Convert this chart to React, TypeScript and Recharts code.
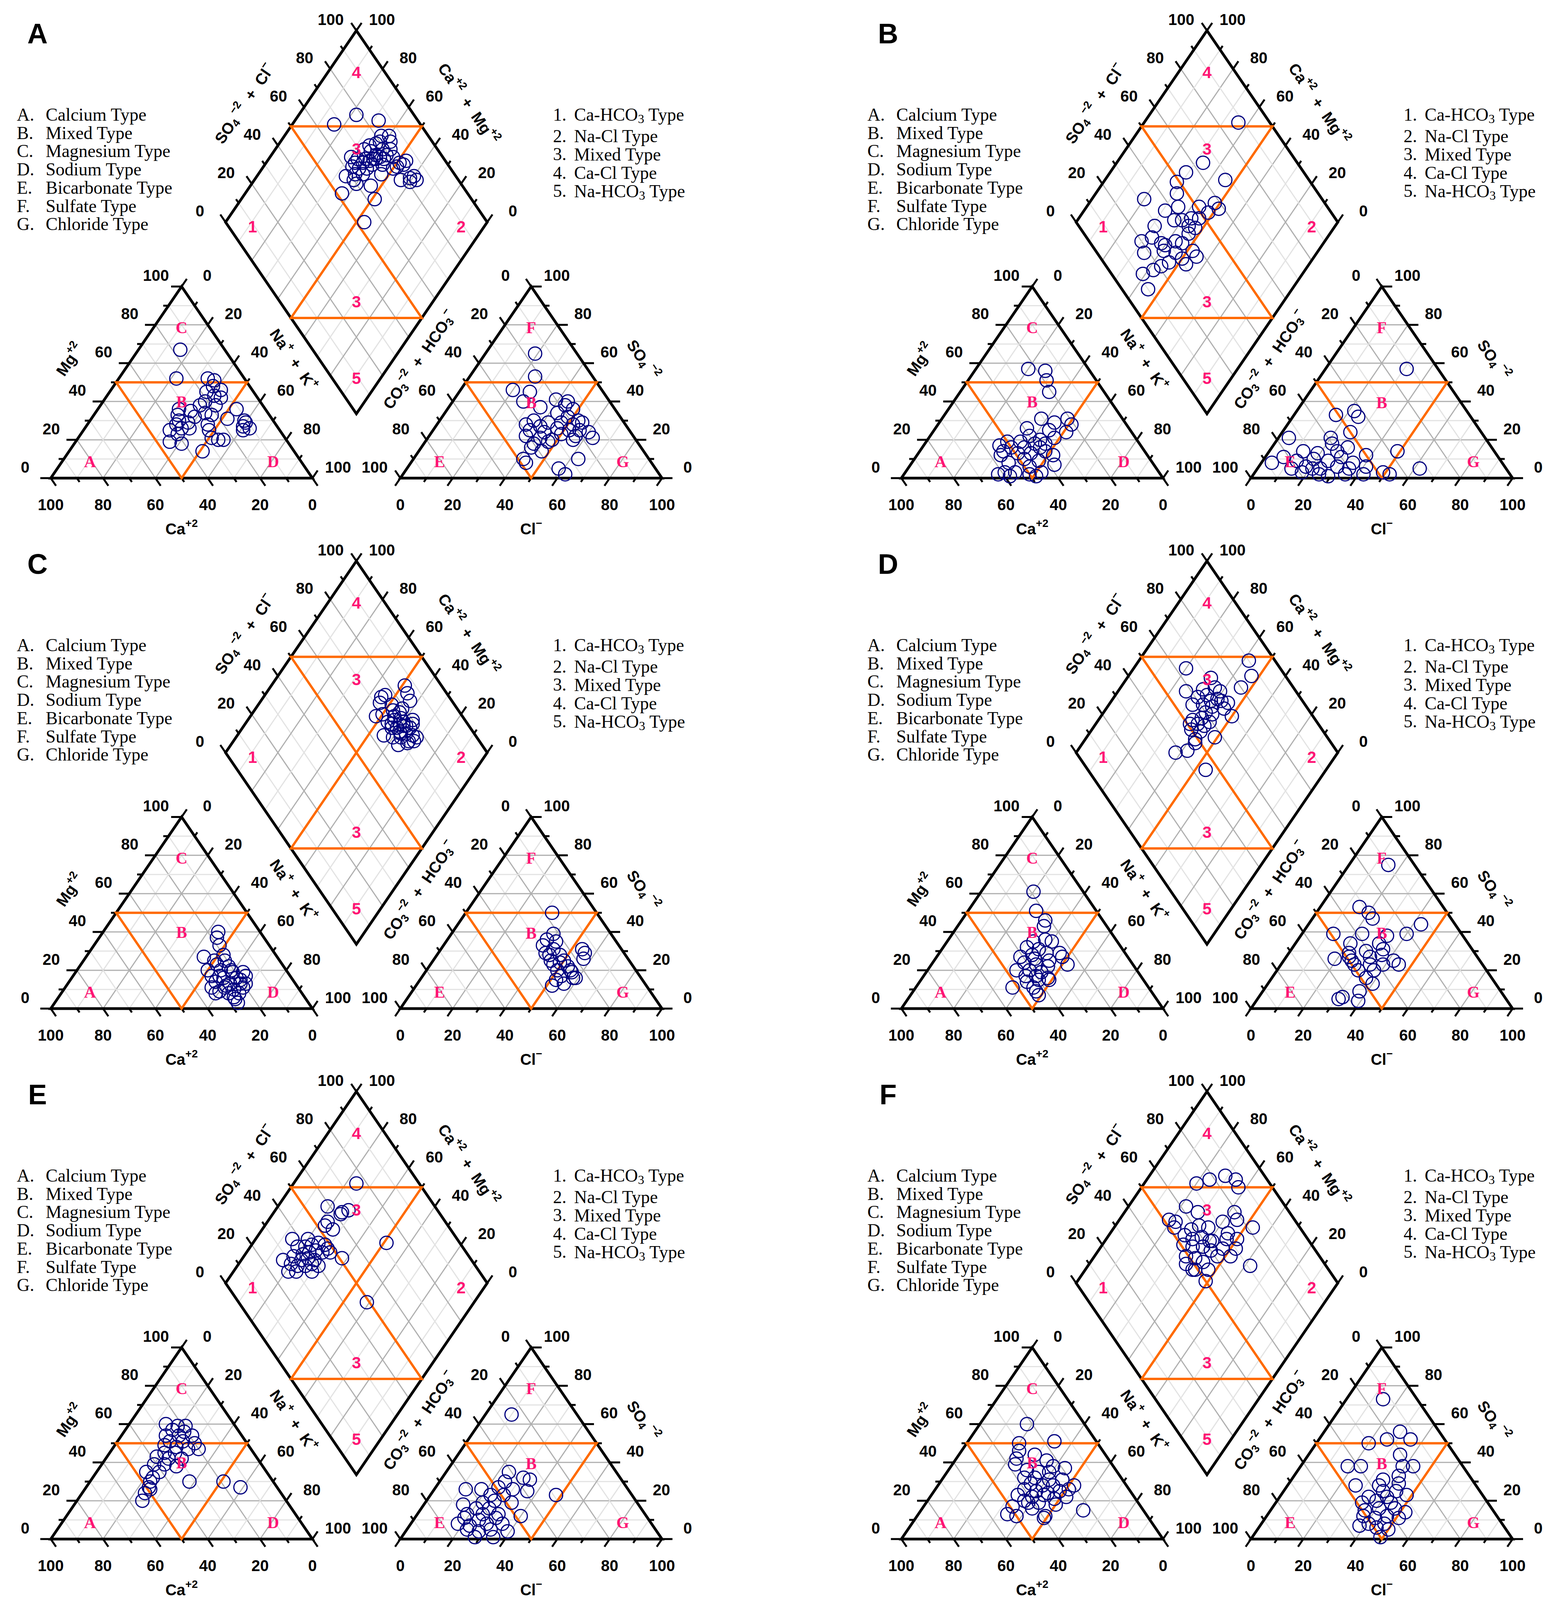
import React from "react";
import { ScatterChart, Scatter, XAxis, YAxis, ReferenceLine } from "recharts";

// cations: [Ca %, Mg %] (Na+K is the rest); anions: [Cl %, SO4 %] (CO3+HCO3 is the rest)
// diamond: [SO4+Cl %, Ca+Mg %]
const cationA = [[17,67],[26,52],[14,52],[12,51],[14,48],[12,46],[18,45],[16,43],[14,42],[21,40],[24,38],[18,38],[11,36],[33,36],[29,35],[24,34],[35,33],[22,33],[29,32],[17,31],[11,30],[36,30],[33,29],[11,29],[38,28],[26,28],[13,27],[11,26],[37,26],[34,26],[42,25],[14,25],[40,23],[27,25],[28,21],[24,20],[45,19],[41,18],[26,20],[35,14]];
const anionA = [[19,65],[25,53],[20,46],[27,45],[39,41],[44,40],[27,40],[35,37],[44,38],[48,36],[43,34],[48,32],[53,30],[36,30],[42,29],[47,29],[52,28],[55,29],[34,28],[40,27],[47,26],[52,25],[56,25],[60,24],[37,25],[43,24],[50,23],[56,22],[63,21],[37,22],[43,21],[48,20],[56,20],[42,18],[47,19],[42,16],[47,14],[42,10],[44,8],[63,10],[58,5],[62,2]];
const diamondA = [[67,84],[78,78],[85,68],[82,63],[85,60],[80,62],[84,58],[78,63],[75,65],[79,59],[82,56],[72,66],[74,63],[75,60],[79,56],[81,53],[65,69],[67,66],[70,63],[73,60],[76,58],[77,56],[65,66],[68,63],[71,61],[74,59],[82,49],[85,47],[83,47],[63,66],[65,63],[68,60],[71,59],[75,55],[78,50],[80,49],[58,66],[62,63],[65,60],[60,62],[72,53],[78,44],[82,41],[84,40],[84,38],[81,40],[60,60],[65,54],[52,63],[63,49],[53,47]];

const cationB = [[23,57],[17,56],[19,51],[21,45],[21,31],[31,31],[27,29],[21,28],[39,26],[31,25],[25,24],[40,22],[37,20],[31,21],[50,19],[45,19],[40,18],[36,18],[54,17],[50,16],[45,16],[39,16],[54,14],[49,13],[44,13],[38,14],[36,12],[56,12],[48,10],[43,9],[38,7],[55,8],[48,6],[59,3],[55,3],[50,2],[45,3],[58,1],[62,2],[48,1]];
const anionB = [[31,57],[16,33],[22,35],[25,32],[26,24],[4,21],[20,21],[49,14],[22,18],[29,16],[13,14],[19,13],[26,14],[38,12],[4,8],[7,11],[13,9],[19,10],[25,9],[29,11],[35,8],[18,6],[24,5],[30,6],[35,5],[41,6],[49,3],[62,5],[18,3],[25,2],[29,1],[35,2],[42,2],[52,2],[21,5],[13,5]];
const diamondB = [[88,64],[64,67],[55,71],[49,72],[68,54],[46,69],[32,80],[37,69],[43,65],[51,57],[58,52],[58,49],[53,52],[38,63],[41,60],[45,57],[48,54],[42,56],[44,53],[29,69],[20,70],[25,67],[27,62],[28,60],[33,57],[35,54],[40,54],[18,66],[26,59],[30,54],[37,48],[37,45],[31,50],[25,54],[31,47],[12,61],[10,55],[21,56],[17,58]];

const cationC = [[16,40],[18,37],[19,33],[28,27],[20,28],[25,25],[21,25],[25,23],[21,22],[25,20],[21,19],[17,19],[30,17],[26,16],[21,16],[17,17],[30,14],[25,13],[21,13],[21,11],[33,11],[28,11],[25,10],[33,8],[28,8],[24,8],[27,5],[27,3],[31,9],[30,20],[21,20],[20,15],[27,12],[27,17],[27,6],[19,13]];
const anionC = [[33,50],[39,39],[38,36],[42,35],[38,33],[43,31],[54,31],[56,29],[57,26],[43,28],[47,28],[45,25],[50,25],[47,23],[53,22],[50,20],[56,19],[53,17],[58,16],[59,16],[52,15],[56,13],[52,12],[41,29],[49,24],[55,20]];
const diamondC = [[86,49],[85,46],[76,54],[74,55],[84,43],[72,54],[79,44],[76,49],[70,50],[75,47],[77,44],[74,45],[76,42],[80,37],[71,44],[74,41],[76,38],[77,36],[70,43],[72,39],[74,36],[76,33],[77,31],[65,44],[68,40],[71,37],[73,33],[68,36],[72,33],[75,31],[73,44],[76,40],[72,41],[75,39],[79,36],[70,46],[72,38],[67,52]];

const cationD = [[19,61],[23,51],[22,46],[24,43],[32,35],[25,35],[27,36],[36,32],[32,31],[36,28],[30,29],[25,29],[41,27],[36,26],[31,25],[25,27],[25,23],[41,24],[37,23],[33,22],[46,20],[41,20],[37,19],[44,17],[40,17],[36,16],[45,14],[40,15],[52,11],[44,11],[44,9],[44,7],[36,15]];
const anionD = [[15,75],[15,53],[20,50],[23,47],[43,44],[12,39],[23,39],[33,38],[40,39],[21,34],[32,34],[23,29],[29,30],[35,31],[19,26],[26,25],[32,27],[36,28],[42,25],[45,23],[28,23],[34,23],[39,23],[31,20],[37,20],[36,16],[40,13],[37,9],[32,6],[39,4],[31,5],[24,27]];
const diamondD = [[90,58],[87,53],[80,54],[64,80],[71,68],[58,74],[65,68],[70,64],[71,61],[61,68],[65,65],[68,60],[71,55],[57,68],[61,64],[64,60],[68,55],[69,50],[60,61],[62,58],[53,64],[57,61],[59,57],[51,64],[54,61],[56,58],[50,62],[53,58],[57,51],[49,58],[48,57],[43,58],[38,62],[45,46],[65,62],[69,58]];

const cationE = [[26,60],[22,59],[19,59],[25,57],[21,56],[29,54],[24,54],[19,54],[29,51],[24,51],[20,50],[32,49],[28,48],[24,47],[20,47],[34,45],[30,45],[38,43],[34,42],[29,42],[41,39],[37,39],[33,38],[41,35],[45,32],[47,30],[49,27],[49,26],[52,24],[55,20],[32,30],[19,30],[14,27],[46,35]];
const anionE = [[10,65],[24,35],[31,32],[34,31],[25,30],[24,27],[12,26],[18,26],[30,26],[36,25],[48,23],[28,23],[23,23],[15,18],[22,19],[26,20],[33,19],[21,16],[26,16],[19,13],[25,13],[31,13],[40,12],[19,11],[25,10],[31,11],[23,7],[29,8],[35,8],[23,5],[28,4],[32,5],[39,4],[28,1],[35,1],[18,8]];
const diamondE = [[76,76],[59,81],[66,72],[63,74],[62,74],[55,77],[53,77],[55,73],[72,49],[51,62],[49,41],[37,86],[28,84],[27,79],[30,76],[36,70],[40,69],[37,82],[43,80],[40,79],[43,77],[46,75],[48,72],[37,78],[40,76],[43,74],[45,71],[33,81],[35,77],[38,75],[40,72],[35,74],[38,72],[32,77],[48,70],[30,80],[48,68]];

const cationF = [[22,60],[30,50],[16,51],[32,46],[35,42],[27,44],[24,41],[37,39],[23,38],[19,37],[34,36],[30,35],[26,35],[37,32],[33,32],[28,31],[23,31],[36,29],[32,28],[28,28],[20,28],[40,26],[36,25],[32,24],[27,25],[23,26],[44,23],[39,22],[34,23],[31,21],[26,22],[42,19],[38,19],[49,17],[32,18],[42,16],[53,13],[50,12],[39,12],[40,11],[23,15],[43,20]];
const anionF = [[14,73],[29,56],[26,52],[35,52],[20,50],[35,44],[18,38],[23,38],[39,38],[43,38],[40,33],[35,31],[26,28],[35,28],[42,29],[38,25],[43,25],[48,23],[34,22],[41,22],[33,19],[38,20],[44,19],[52,14],[36,15],[41,16],[47,16],[37,12],[42,11],[46,12],[51,11],[41,8],[47,8],[45,6],[50,5],[49,1],[38,7]];
const diamondF = [[72,80],[78,76],[85,71],[88,66],[87,63],[62,78],[65,72],[79,58],[78,55],[52,81],[54,78],[52,77],[82,47],[72,60],[58,70],[62,68],[65,64],[71,55],[54,71],[56,67],[60,64],[62,60],[69,54],[73,50],[51,69],[54,65],[58,61],[60,57],[65,53],[70,48],[49,65],[52,61],[61,53],[66,48],[47,63],[54,57],[48,59],[49,58],[54,53],[71,38],[50,51],[58,61],[63,59]];

const panels = [
  { id: "A", cation: cationA, anion: anionA, diamond: diamondA },
  { id: "B", cation: cationB, anion: anionB, diamond: diamondB },
  { id: "C", cation: cationC, anion: anionC, diamond: diamondC },
  { id: "D", cation: cationD, anion: anionD, diamond: diamondD },
  { id: "E", cation: cationE, anion: anionE, diamond: diamondE },
  { id: "F", cation: cationF, anion: anionF, diamond: diamondF },
];

const tickLabels = [0, 20, 40, 60, 80, 100];
const tickSteps = [0, 10, 20, 30, 40, 50, 60, 70, 80, 90, 100];
const gridSteps = [10, 20, 30, 40, 50, 60, 70, 80, 90];
const letterLegend = [
  ["A.", "Calcium Type"], ["B.", "Mixed Type"], ["C.", "Magnesium Type"], ["D.", "Sodium Type"],
  ["E.", "Bicarbonate Type"], ["F.", "Sulfate Type"], ["G.", "Chloride Type"],
];
const numberLegend = [
  ["1.", [["Ca-HCO", "n"], ["3", "sub"], [" Type", "n"]]],
  ["2.", [["Na-Cl Type", "n"]]],
  ["3.", [["Mixed Type", "n"]]],
  ["4.", [["Ca-Cl Type", "n"]]],
  ["5.", [["Na-HCO", "n"], ["3", "sub"], [" Type", "n"]]],
];

// ---- layout: plot units, triangle side = 100
// the photo is shorter than the page, so the whole figure is pressed vertically by SY
const SY = 0.845;
const S3 = Math.sqrt(3) / 2;
const GAP = 33.6;
const OFF = 100 + GAP;
const PX = 6.7;
const CW = 1830, CH = 1700;
const OX = 130, OY = 1448;
const COL = 2178, ROW = 1607;
const xDomain = [-OX / PX, (CW - OX) / PX];
const yDomain = [-(CH - OY) / PX, OY / PX];
const EDGE_DEG = (Math.atan(Math.tan(Math.PI / 3) * SY) * 180) / Math.PI;
const PINK = "#ff1474";
const NAVY = "#000080";
const ORANGE = "#ff6a00";

type Pt = { x: number; y: number };
const lerp = (a: Pt, b: Pt, t: number): Pt => ({ x: a.x + (b.x - a.x) * t, y: a.y + (b.y - a.y) * t });
const shift = (a: Pt, dx: number, dy: number): Pt => ({ x: a.x + dx, y: a.y + dy });
const fromPx = (px: number, py: number): Pt => ({ x: (px - OX) / PX, y: (OY - py) / PX });

const cA = { x: 0, y: 0 }, cB = { x: 100, y: 0 }, cC = { x: 50, y: 100 * S3 };
const aA = { x: OFF, y: 0 }, aB = { x: OFF + 100, y: 0 }, aC = { x: OFF + 50, y: 100 * S3 };
const DB = { x: 100 + GAP / 2, y: GAP * S3 };
const DL = { x: DB.x - 50, y: DB.y + 100 * S3 };
const DR = { x: DB.x + 50, y: DB.y + 100 * S3 };
const DT = { x: DB.x, y: DB.y + 200 * S3 };

const cationXY = ([ca, mg]: number[]): Pt => ({ x: 100 - ca - mg + mg / 2, y: mg * S3 });
const anionXY = ([cl, so4]: number[]): Pt => ({ x: OFF + cl + so4 / 2, y: so4 * S3 });
const diamondXY = ([p, q]: number[]): Pt => ({ x: DB.x + (p - q) / 2, y: DB.y + (p + q) * S3 });

// grid lines
const gridSegs: { a: Pt; b: Pt; dark: boolean }[] = [];
for (const v of gridSteps) {
  const t = v / 100;
  const dark = v % 20 === 0;
  for (const [A, B, C] of [[cA, cB, cC], [aA, aB, aC]]) {
    gridSegs.push({ a: lerp(A, C, t), b: lerp(B, C, t), dark });
    gridSegs.push({ a: lerp(A, B, t), b: lerp(C, B, t), dark });
    gridSegs.push({ a: lerp(B, A, t), b: lerp(C, A, t), dark });
  }
  gridSegs.push({ a: lerp(DB, DR, t), b: lerp(DL, DT, t), dark });
  gridSegs.push({ a: lerp(DB, DL, t), b: lerp(DR, DT, t), dark });
}

// axes: edge from value 0 to 100, tick direction, label offset
const axes = [
  { from: cA, to: cC, dir: [-1, 0], lab: [-9.8, 5] },
  { from: cC, to: cB, dir: [0.5, S3], lab: [9.8, 5] },
  { from: cB, to: cA, dir: [0.5, -S3], lab: [0, -12] },
  { from: aA, to: aB, dir: [-0.5, -S3], lab: [0, -12] },
  { from: aC, to: aA, dir: [-0.5, S3], lab: [-9.8, 5] },
  { from: aB, to: aC, dir: [1, 0], lab: [9.8, 5] },
  { from: DL, to: DT, dir: [-0.5, S3], lab: [-9.8, 5] },
  { from: DR, to: DT, dir: [0.5, S3], lab: [9.8, 5] },
];
const tickSegs: { a: Pt; b: Pt }[] = [];
const labels: any[] = [];
const tickStyle = { font: "Liberation Sans", fs: 40, weight: 700, fill: "#000" };
for (const ax of axes) {
  for (const v of tickSteps) {
    const p = lerp(ax.from, ax.to, v / 100);
    const len = v % 20 === 0 ? 4 : 2;
    tickSegs.push({ a: p, b: shift(p, ax.dir[0] * len, ax.dir[1] * len) });
  }
  for (const v of tickLabels) {
    const p = lerp(ax.from, ax.to, v / 100);
    labels.push({ ...shift(p, ax.lab[0], ax.lab[1]), text: String(v), ...tickStyle });
  }
}

// axis titles
const titleStyle = { font: "Liberation Sans", fs: 40, weight: 700, fill: "#000" };
const TD = 20.5;
const SP = "\u00a0\u00a0+\u00a0\u00a0";
const titles = [
  { at: shift(lerp(cA, cC, 0.5), -S3 * TD, 0.5 * TD), rot: -EDGE_DEG, parts: [["Mg", "n"], ["+2", "sup"]] },
  { at: shift(lerp(cB, cC, 0.5), S3 * TD, 0.5 * TD), rot: EDGE_DEG, parts: [["Na", "n"], ["+", "sup"], [SP + "K", "n"], ["+", "sup"]] },
  { at: shift(lerp(aA, aC, 0.5), -S3 * TD, 0.5 * TD), rot: -EDGE_DEG, parts: [["CO", "n"], ["3", "sub"], ["\u22122", "sup"], [SP + "HCO", "n"], ["3", "sub"], ["\u2212", "sup"]] },
  { at: shift(lerp(aB, aC, 0.5), S3 * TD, 0.5 * TD), rot: EDGE_DEG, parts: [["SO", "n"], ["4", "sub"], ["\u00a0\u22122", "sup"]] },
  { at: shift(lerp(DL, DT, 0.5), -S3 * TD, 0.5 * TD), rot: -EDGE_DEG, parts: [["SO", "n"], ["4", "sub"], ["\u00a0\u22122", "sup"], [SP + "Cl", "n"], ["\u2212", "sup"]] },
  { at: shift(lerp(DR, DT, 0.5), S3 * TD, 0.5 * TD), rot: EDGE_DEG, parts: [["Ca", "n"], ["+2", "sup"], [SP + "Mg", "n"], ["+2", "sup"]] },
  { at: { x: 50, y: -23 }, rot: 0, parts: [["Ca", "n"], ["+2", "sup"]] },
  { at: { x: OFF + 50, y: -23 }, rot: 0, parts: [["Cl", "n"], ["\u2212", "sup"]] },
];
for (const t of titles) labels.push({ ...t.at, rot: t.rot, parts: t.parts, ...titleStyle });

// region marks
const numStyle = { font: "Liberation Sans", fs: 42, weight: 700, fill: PINK };
const letStyle = { font: "Liberation Serif", fs: 42, weight: 700, fill: PINK };
const regionNums: [string, Pt][] = [
  ["1", { x: DL.x + 10.3, y: DL.y - 2 }], ["2", { x: DR.x - 10, y: DL.y - 2 }],
  ["3", { x: DB.x, y: DL.y + 33 }], ["3", { x: DB.x, y: DL.y - 36 }],
  ["4", { x: DB.x, y: DT.y - 19 }], ["5", { x: DB.x, y: DB.y + 16 }],
];
const regionLets: [string, Pt][] = [
  ["C", { x: 50, y: 68 }], ["B", { x: 50, y: 34.5 }], ["A", { x: 15, y: 7.5 }], ["D", { x: 85, y: 7.5 }],
  ["F", { x: OFF + 50, y: 68 }], ["B", { x: OFF + 50, y: 34 }], ["E", { x: OFF + 15, y: 7.5 }], ["G", { x: OFF + 85, y: 7.5 }],
];
for (const [t, p] of regionNums) labels.push({ ...p, text: t, ...numStyle });
for (const [t, p] of regionLets) labels.push({ ...p, text: t, ...letStyle });

// legends
const legStyle = { font: "Liberation Serif", fs: 46, weight: 400, fill: "#000", anchor: "start" };
letterLegend.forEach(([k, name], i) => {
  const py = 347 + 55.3 * i;
  labels.push({ ...fromPx(43, py), text: k, ...legStyle });
  labels.push({ ...fromPx(117, py), text: name, ...legStyle });
});
const rightRows = [347, 412, 467, 523, 578];
numberLegend.forEach(([k, parts], i) => {
  labels.push({ ...fromPx(1416, rightRows[i]), text: k, ...legStyle });
  labels.push({ ...fromPx(1470, rightRows[i]), parts, ...legStyle });
});

// outlines and orange class boundaries (closed at an edge midpoint)
const mid = (a: Pt, b: Pt) => lerp(a, b, 0.5);
const outlines = [
  [mid(cA, cB), cB, cC, cA, mid(cA, cB)],
  [mid(aA, aB), aB, aC, aA, mid(aA, aB)],
  [mid(DB, DR), DR, DT, DL, DB, mid(DB, DR)],
];
const triOrange = (A: Pt, B: Pt, C: Pt) => {
  const m1 = mid(A, C), m2 = mid(B, C), m3 = mid(A, B);
  return [mid(m1, m2), m2, m3, m1, mid(m1, m2)];
};
const mLT = mid(DL, DT), mRT = mid(DR, DT), mBL = mid(DB, DL), mBR = mid(DB, DR);
const oranges = [
  triOrange(cA, cB, cC),
  triOrange(aA, aB, aC),
  [mid(mLT, mRT), mRT, mBL, mBR, mLT, mid(mLT, mRT)],
];

function richText(parts: any[], size: number) {
  let base = 0;
  return parts.map(([t, k]: [string, string], i: number) => {
    const target = k === "sup" ? -0.38 * size : k === "sub" ? 0.24 * size : 0;
    const dy = target - base;
    base = target;
    return (
      <tspan key={i} dy={dy} fontSize={k === "n" ? size : size * 0.7}>
        {t}
      </tspan>
    );
  });
}

function LabelShape(props: any) {
  const { cx, cy, payload: d } = props;
  if (cx == null || cy == null || !d) return null;
  return (
    <text
      x={cx}
      y={cy}
      textAnchor={d.anchor || "middle"}
      dominantBaseline="central"
      fontFamily={d.font}
      fontSize={d.fs}
      fontWeight={d.weight}
      fill={d.fill}
      transform={d.rot ? `rotate(${d.rot} ${cx} ${cy})` : undefined}
    >
      {d.parts ? richText(d.parts, d.fs) : d.text}
    </text>
  );
}

function Ring(props: any) {
  if (props.cx == null) return null;
  return <circle cx={props.cx} cy={props.cy} r={17} fill="none" stroke={NAVY} strokeWidth={3} />;
}

const noShape = () => <g />;

function PiperPanel({ panel, left, top }: any) {
  const points = [
    ...panel.cation.map(cationXY),
    ...panel.anion.map(anionXY),
    ...panel.diamond.map(diamondXY),
  ];
  const panelLabels = [
    ...labels,
    { ...fromPx(96, 102), text: panel.id, font: "Liberation Sans", fs: 72, weight: 700, fill: "#000" },
  ];
  const h = Math.round(CH * SY);
  return (
    <div style={{ position: "absolute", left, top, width: CW, height: h }}>
      <ScatterChart width={CW} height={h} margin={{ top: 0, right: 0, bottom: 0, left: 0 }}>
        <XAxis type="number" dataKey="x" domain={xDomain} hide allowDataOverflow />
        <YAxis type="number" dataKey="y" domain={yDomain} hide allowDataOverflow />
        {gridSegs.map((s, i) => (
          <ReferenceLine
            key={"g" + i}
            segment={[s.a, s.b]}
            stroke={s.dark ? "#b0b0b0" : "#e3e3e3"}
            strokeWidth={3}
          />
        ))}
        {tickSegs.map((s, i) => (
          <ReferenceLine key={"t" + i} segment={[s.a, s.b]} stroke="#000" strokeWidth={5} />
        ))}
        {outlines.map((poly, i) => (
          <Scatter
            key={"o" + i}
            data={poly}
            line={{ stroke: "#000", strokeWidth: 7 }}
            shape={noShape}
            isAnimationActive={false}
          />
        ))}
        {oranges.map((poly, i) => (
          <Scatter
            key={"r" + i}
            data={poly}
            line={{ stroke: ORANGE, strokeWidth: 6 }}
            shape={noShape}
            isAnimationActive={false}
          />
        ))}
        <Scatter data={points} shape={Ring} isAnimationActive={false} />
        <Scatter data={panelLabels} shape={LabelShape} isAnimationActive={false} />
      </ScatterChart>
    </div>
  );
}

export default function App() {
  return (
    <div
      style={{
        position: "relative",
        margin: -8,
        height: Math.round(4861 * SY),
        background: "#fff",
        overflow: "hidden",
      }}
    >
      {panels.map((p, i) => (
        <PiperPanel
          key={p.id}
          panel={p}
          left={(i % 2) * COL}
          top={Math.round(Math.floor(i / 2) * ROW * SY)}
        />
      ))}
    </div>
  );
}
